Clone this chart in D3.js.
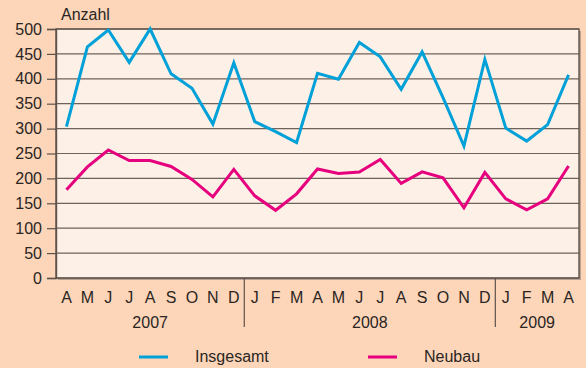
<!DOCTYPE html>
<html>
<head>
<meta charset="utf-8">
<script src="https://cdn.jsdelivr.net/npm/d3@7"></script>
<style>
  html, body { margin: 0; padding: 0; background: #fdd5b9; }
  svg { display: block; font-family: "Liberation Sans", Arial, sans-serif; }
</style>
</head>
<body>
<svg id="chart" width="586" height="368"></svg>
<script>
// Monthly counts, April 2007 – April 2009
const months = ["A","M","J","J","A","S","O","N","D",
                "J","F","M","A","M","J","J","A","S","O","N","D",
                "J","F","M","A"];
const years = [
  { label: "2007", from: 0, to: 8 },
  { label: "2008", from: 9, to: 20 },
  { label: "2009", from: 21, to: 24 }
];
const insgesamt = [304, 464, 498, 433, 500, 410, 381, 309, 432,
                   314, 294, 272, 411, 399, 473, 444, 379, 454, 362, 265, 439,
                   301, 275, 308, 408];
const neubau = [177, 223, 257, 236, 236, 224, 198, 163, 218,
                165, 136, 169, 219, 210, 213, 238, 190, 213, 201, 141, 212,
                159, 137, 159, 225];
const yTicks = [0, 50, 100, 150, 200, 250, 300, 350, 400, 450, 500];

const seriesDefs = [
  { name: "Insgesamt", values: insgesamt, color: "#00a0d8" },
  { name: "Neubau", values: neubau, color: "#e6007e" }
];

const FONT = 16;
const svg = d3.select("#chart");
const plotL = 56, plotR = 579, plotT = 29, plotB = 278;

const x = d3.scaleBand().domain(d3.range(months.length)).range([plotL, plotR]);
const y = d3.scaleLinear().domain([0, 500]).range([plotB, plotT]);

// plot panel with a soft drop shadow
svg.append("rect")
  .attr("x", plotL + 2).attr("y", plotT + 2)
  .attr("width", plotR - plotL).attr("height", plotB - plotT)
  .attr("fill", "#8a7f78").attr("opacity", 0.6);
svg.append("rect")
  .attr("x", plotL).attr("y", plotT)
  .attr("width", plotR - plotL).attr("height", plotB - plotT)
  .attr("fill", "#fdf0e6");

// horizontal grid lines
svg.append("g").selectAll("line").data(yTicks).join("line")
  .attr("x1", plotL).attr("x2", plotR)
  .attr("y1", d => y(d)).attr("y2", d => y(d))
  .attr("stroke", "#6e625a").attr("stroke-width", 1.2);

// frame
svg.append("rect")
  .attr("x", plotL).attr("y", plotT)
  .attr("width", plotR - plotL).attr("height", plotB - plotT)
  .attr("fill", "none").attr("stroke", "#5e524b").attr("stroke-width", 1.4);

// y axis
const yAxis = d3.axisLeft(y).tickValues(yTicks).tickSize(9).tickPadding(5);
const ya = svg.append("g").attr("transform", `translate(${plotL},0)`).call(yAxis);
ya.select(".domain").attr("stroke", "#5e524b").attr("stroke-width", 1.4);
ya.selectAll(".tick line").attr("stroke", "#5e524b").attr("stroke-width", 1.2);
ya.selectAll(".tick text")
  .attr("font-size", FONT).attr("fill", "#2a2522")
  .attr("font-family", "Liberation Sans, Arial, sans-serif");

svg.append("text")
  .attr("x", 61).attr("y", 20)
  .attr("font-size", FONT).attr("fill", "#2a2522")
  .text("Anzahl");

// month labels
const xAxis = d3.axisBottom(x).tickFormat(i => months[i]).tickSize(0).tickPadding(14);
const xa = svg.append("g").attr("transform", `translate(0,${plotB})`).call(xAxis);
xa.select(".domain").remove();
xa.selectAll(".tick text")
  .attr("font-size", FONT).attr("fill", "#2a2522")
  .attr("font-family", "Liberation Sans, Arial, sans-serif");

// year separators and labels
years.slice(1).forEach(yr => {
  const sx = x(yr.from);
  svg.append("line")
    .attr("x1", sx).attr("x2", sx)
    .attr("y1", plotB).attr("y2", 327)
    .attr("stroke", "#5e524b").attr("stroke-width", 1.2);
});
svg.append("g").selectAll("text").data(years).join("text")
  .attr("x", d => (x(d.from) + x(d.to) + x.bandwidth()) / 2)
  .attr("y", 328)
  .attr("text-anchor", "middle")
  .attr("font-size", FONT).attr("fill", "#2a2522")
  .text(d => d.label);

// series lines
const line = d3.line()
  .x((d, i) => x(i) + x.bandwidth() / 2)
  .y(d => y(d));
svg.append("g").selectAll("path").data(seriesDefs).join("path")
  .attr("d", d => line(d.values))
  .attr("fill", "none")
  .attr("stroke", d => d.color)
  .attr("stroke-width", 3)
  .attr("stroke-linejoin", "miter");

// legend
const legendPos = [{ lx: 139, tx: 195 }, { lx: 368, tx: 424 }];
const lg = svg.append("g").selectAll("g").data(seriesDefs).join("g");
lg.append("line")
  .attr("x1", (d, i) => legendPos[i].lx).attr("x2", (d, i) => legendPos[i].lx + 29)
  .attr("y1", 357).attr("y2", 357)
  .attr("stroke", d => d.color).attr("stroke-width", 3);
lg.append("text")
  .attr("x", (d, i) => legendPos[i].tx).attr("y", 362)
  .attr("font-size", FONT).attr("fill", "#2a2522")
  .text(d => d.name);
</script>
</body>
</html>
